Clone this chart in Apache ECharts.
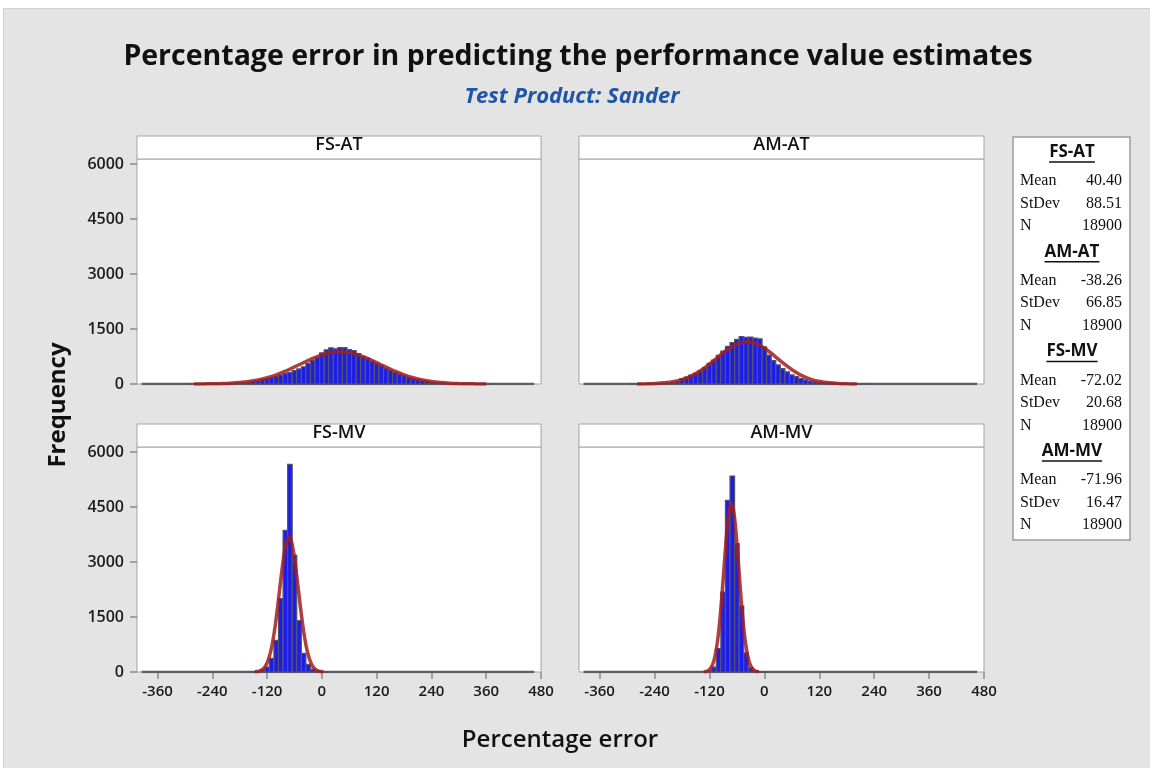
<!DOCTYPE html>
<html>
<head>
<meta charset="utf-8">
<title>Percentage error in predicting the performance value estimates</title>
<script src="https://cdn.jsdelivr.net/npm/echarts@6/dist/echarts.min.js"></script>
<style>
  html, body { margin: 0; padding: 0; background: #fff; }
  #frame { position: absolute; left: 3px; top: 8px; width: 1147px; height: 760px; background: #e4e4e4;
           border-top: 1px solid #d2d2d2; border-left: 1px solid #d2d2d2; box-sizing: border-box; }
  #chart { position: absolute; left: 0; top: 0; width: 1150px; height: 768px; }
</style>
</head>
<body>
<div id="frame"></div>
<div id="chart"></div>
<script>
// panel names and summary statistics
const panelNames = ['FS-AT', 'AM-AT', 'FS-MV', 'AM-MV'];
const panelMeans = ['40.40', '-38.26', '-72.02', '-71.96'];
const panelStdevs = ['88.51', '66.85', '20.68', '16.47'];
const panelN = ['18900', '18900', '18900', '18900'];

const xTicks = [-360, -240, -120, 0, 120, 240, 360, 480];
const yTicks = [0, 1500, 3000, 4500, 6000];
const binWidth = 10;
const dataExtent = [-395, 465];

// histogram counts, bins of width 10 starting at the given bin centre
const fsAtStart = -290;
const fsAtCounts = [1, 2, 2, 3, 4, 5, 7, 9, 12, 15, 19, 24, 30,
  45, 70, 92, 128, 150, 180, 210, 245, 285, 320, 365,
  410, 470, 560, 640, 720, 850, 930, 985, 960, 995, 990,
  940, 910, 830, 740, 690, 620, 560, 500, 430, 370, 320,
  270, 220, 180, 150, 125, 100, 70, 45, 30, 22, 16, 12, 9, 7, 5, 4, 3, 2, 2, 1, 1];

const amAtStart = -290;
const amAtCounts = [1, 2, 3, 4, 6, 8, 11, 15, 22, 35, 60,
  150, 190, 240, 290, 360, 440, 560, 650, 780,
  900, 1030, 1130, 1220, 1290, 1270, 1280, 1250, 1230,
  1010, 790, 640, 520, 420, 330, 250, 200, 150, 110,
  80, 60, 45, 35, 27, 20, 15, 11, 8, 6, 4, 3, 2, 1];

const fsMvStart = -160;
const fsMvCounts = [3, 8, 15, 60, 136, 373, 863, 2000, 3860, 5660, 3180, 1400, 508, 210, 80, 30, 12, 5];

const amMvStart = -130;
const amMvCounts = [5, 30, 136, 637, 2180, 4682, 5345, 3500, 1800, 520, 120, 30, 8, 3];

// fitted normal curves
const fsAtFitX = [-280, -260, -240, -220, -200, -180, -160, -140, -120, -100, -80, -60, -40, -20, 0, 20, 40,
  60, 80, 100, 120, 140, 160, 180, 200, 220, 240, 260, 280, 300, 320, 340, 360];
const fsAtFitY = [1, 3, 6, 12, 22, 40, 68, 111, 172, 251, 351, 465, 585, 699, 794, 857, 880,
  857, 794, 699, 585, 465, 351, 251, 172, 111, 68, 40, 22, 12, 6, 3, 1];

const amAtFitX = [-278, -258, -238, -218, -198, -178, -158, -138, -118, -98, -78, -58, -38,
  -18, 2, 22, 42, 62, 82, 102, 122, 142, 162, 182, 202];
const amAtFitY = [2, 5, 13, 31, 66, 128, 230, 376, 562, 769, 962, 1100, 1150,
  1100, 962, 769, 562, 376, 230, 128, 66, 31, 13, 5, 2];

const fsMvFitX = [-147, -142, -137, -132, -127, -122, -117, -112, -107, -102, -97, -92, -87, -82, -77, -72,
  -67, -62, -57, -52, -47, -42, -37, -32, -27, -22, -17, -12, -7, -2, 3];
const fsMvFitY = [5, 12, 26, 55, 107, 198, 345, 567, 879, 1285, 1772, 2305, 2829, 3274, 3574, 3680,
  3574, 3274, 2829, 2305, 1772, 1285, 879, 567, 345, 198, 107, 55, 26, 12, 5];

const amMvFitX = [-132, -127, -122, -117, -112, -107, -102, -97, -92, -87, -82, -77, -72,
  -67, -62, -57, -52, -47, -42, -37, -32, -27, -22, -17, -12];
const amMvFitY = [6, 17, 46, 110, 240, 480, 873, 1450, 2196, 3032, 3818, 4383, 4590,
  4383, 3818, 3032, 2196, 1450, 873, 480, 240, 110, 46, 17, 6];

const binStarts = [fsAtStart, amAtStart, fsMvStart, amMvStart];
const binCounts = [fsAtCounts, amAtCounts, fsMvCounts, amMvCounts];
const fitXs = [fsAtFitX, amAtFitX, fsMvFitX, amMvFitX];
const fitYs = [fsAtFitY, amAtFitY, fsMvFitY, amMvFitY];

// panel rectangles (plot area)
const panels = [
  { left: 137, top: 159, width: 404, height: 225 },
  { left: 579, top: 159, width: 405, height: 225 },
  { left: 137, top: 447, width: 404, height: 225 },
  { left: 579, top: 447, width: 405, height: 225 }
];
const headerHeight = 23;
const sansFont = '"Open Sans", "Noto Sans", sans-serif';
const serifFont = '"Liberation Serif", "DejaVu Serif", serif';

function renderBin(params, api) {
  const c = api.value(0);
  const h = api.value(1);
  const p0 = api.coord([c - binWidth / 2, 0]);
  const p1 = api.coord([c + binWidth / 2, h]);
  return {
    type: 'rect',
    shape: { x: p0[0], y: p1[1], width: p1[0] - p0[0], height: p0[1] - p1[1] },
    style: { fill: '#1c1cee', stroke: '#55556a', lineWidth: 1.2 }
  };
}

const grids = [], xAxes = [], yAxes = [], series = [], graphics = [];

panels.forEach(function (p, i) {
  const bottomRow = i >= 2;
  const leftCol = i % 2 === 0;
  grids.push({ left: p.left, top: p.top, width: p.width, height: p.height, show: true,
    backgroundColor: '#fff', borderColor: '#a4a4a4', borderWidth: 1 });
  xAxes.push({
    type: 'value', gridIndex: i, min: -405, max: 480, position: 'bottom',
    axisLine: { show: false, onZero: false }, splitLine: { show: false },
    axisTick: { show: bottomRow, customValues: xTicks, length: 7, lineStyle: { color: '#8c8c8c', width: 1.5 } },
    axisLabel: { show: bottomRow, customValues: xTicks, margin: 12, color: '#1a1a1a',
      fontSize: 15, fontWeight: 600, fontFamily: sansFont, formatter: function (v) { return String(v); } }
  });
  yAxes.push({
    type: 'value', gridIndex: i, min: 0, max: 6136, position: 'left',
    axisLine: { show: false, onZero: false }, splitLine: { show: false },
    axisTick: { show: leftCol, customValues: yTicks, length: 7, lineStyle: { color: '#8c8c8c', width: 1.5 } },
    axisLabel: { show: leftCol, customValues: yTicks, margin: 13, color: '#1a1a1a',
      fontSize: 16, fontWeight: 600, fontFamily: sansFont, formatter: function (v) { return String(v); } }
  });

  series.push({
    type: 'line', xAxisIndex: i, yAxisIndex: i, silent: true, symbol: 'none', z: 1,
    data: [[dataExtent[0], 0], [dataExtent[1], 0]],
    lineStyle: { color: '#5e5e5e', width: 2.5 }
  });
  series.push({
    type: 'custom', xAxisIndex: i, yAxisIndex: i, z: 2,
    renderItem: renderBin, encode: { x: 0, y: 1 },
    data: binCounts[i].map(function (c, k) { return [binStarts[i] + k * binWidth, c]; })
  });
  series.push({
    type: 'line', xAxisIndex: i, yAxisIndex: i, silent: true, symbol: 'none', smooth: 0.3, z: 3,
    data: fitXs[i].map(function (x, k) { return [x, fitYs[i][k]]; }),
    lineStyle: { color: '#a01e1e', width: 3.5, opacity: 0.85 }
  });

  // header strip
  graphics.push({
    type: 'rect', shape: { x: p.left, y: p.top - headerHeight, width: p.width, height: headerHeight },
    style: { fill: '#fff', stroke: '#a4a4a4', lineWidth: 1 }
  });
  graphics.push({
    type: 'text', x: p.left + p.width / 2, y: p.top - headerHeight / 2 - 3,
    style: { text: panelNames[i], font: '600 18px ' + sansFont, fill: '#111',
      textAlign: 'center', textVerticalAlign: 'middle' }
  });
});

// titles and axis names
graphics.push({
  type: 'text', x: 578, y: 57,
  style: { text: 'Percentage error in predicting the performance value estimates',
    font: 'bold 28.5px ' + sansFont, fill: '#111', textAlign: 'center', textVerticalAlign: 'middle' }
});
graphics.push({
  type: 'text', x: 572, y: 97,
  style: { text: 'Test Product: Sander', font: 'italic bold 22px ' + sansFont, fill: '#1f55a6',
    textAlign: 'center', textVerticalAlign: 'middle' }
});
graphics.push({
  type: 'text', x: 560, y: 740,
  style: { text: 'Percentage error', font: '600 24px ' + sansFont, fill: '#111',
    textAlign: 'center', textVerticalAlign: 'middle' }
});
graphics.push({
  type: 'text', x: 58, y: 405, rotation: Math.PI / 2,
  style: { text: 'Frequency', font: 'bold 24px ' + sansFont, fill: '#111',
    textAlign: 'center', textVerticalAlign: 'middle' }
});

// statistics box
graphics.push({
  type: 'rect', shape: { x: 1013, y: 137, width: 117, height: 403 },
  style: { fill: '#fff', stroke: '#9c9c9c', lineWidth: 1.5 }
});
const measure = document.createElement('canvas').getContext('2d');
panelNames.forEach(function (name, k) {
  const hy = 152 + k * 99.7;
  const headFont = 'bold 17px ' + sansFont;
  measure.font = headFont;
  const w = measure.measureText(name).width;
  graphics.push({
    type: 'text', x: 1072, y: hy,
    style: { text: name, font: headFont, fill: '#111', textAlign: 'center', textVerticalAlign: 'middle' }
  });
  graphics.push({
    type: 'line', shape: { x1: 1072 - w / 2, y1: hy + 10, x2: 1072 + w / 2, y2: hy + 10 },
    style: { stroke: '#111', lineWidth: 1.5 }
  });
  const rows = [['Mean', panelMeans[k]], ['StDev', panelStdevs[k]], ['N', panelN[k]]];
  rows.forEach(function (r, j) {
    const ry = hy + 29 + j * 22.5;
    graphics.push({
      type: 'text', x: 1020, y: ry,
      style: { text: r[0], font: '16px ' + serifFont, fill: '#111', textAlign: 'left', textVerticalAlign: 'middle' }
    });
    graphics.push({
      type: 'text', x: 1122, y: ry,
      style: { text: r[1], font: '16px ' + serifFont, fill: '#111', textAlign: 'right', textVerticalAlign: 'middle' }
    });
  });
});

const chart = echarts.init(document.getElementById('chart'), null, { renderer: 'canvas' });
chart.setOption({
  animation: false,
  backgroundColor: 'transparent',
  grid: grids,
  xAxis: xAxes,
  yAxis: yAxes,
  series: series,
  graphic: { elements: graphics }
});
</script>
</body>
</html>
